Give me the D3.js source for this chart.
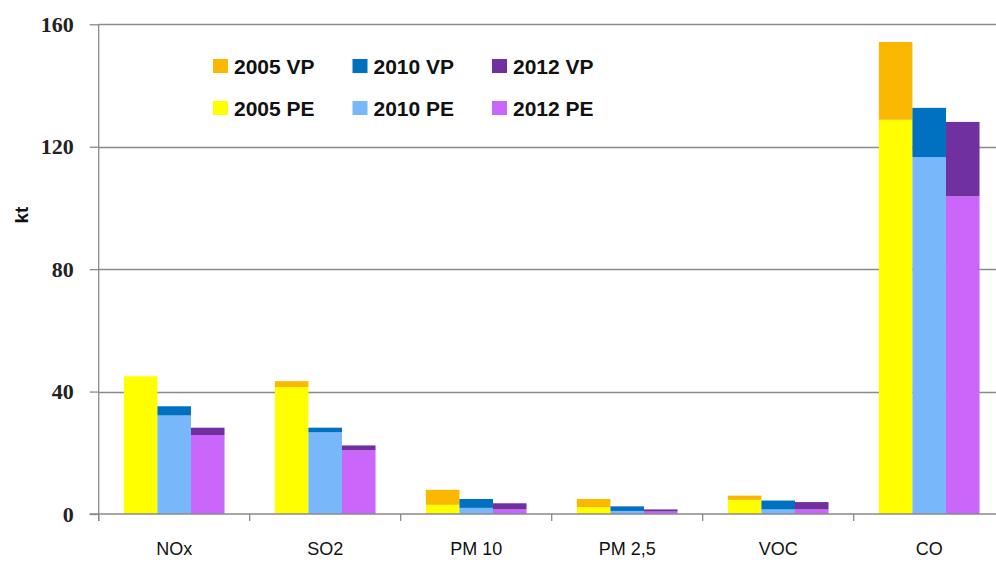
<!DOCTYPE html>
<html><head><meta charset="utf-8">
<script src="https://cdn.jsdelivr.net/npm/d3@7"></script>
<style>
html,body{margin:0;padding:0;background:#fff;}
svg{display:block;}
</style></head>
<body>
<svg id="chart" width="996" height="563"></svg>
<script>
const categories = ["NOx", "SO2", "PM 10", "PM 2,5", "VOC", "CO"];
const years = ["2005", "2010", "2012"];
const pe2005 = [45.0, 41.5, 3.0, 2.2, 4.6, 128.8];
const vp2005 = [0.0, 1.9, 4.9, 2.7, 1.4, 25.4];
const pe2010 = [32.2, 26.7, 2.0, 1.0, 1.5, 116.6];
const vp2010 = [3.0, 1.5, 2.9, 1.5, 2.9, 16.1];
const pe2012 = [25.8, 20.8, 1.5, 0.8, 1.5, 103.8];
const vp2012 = [2.4, 1.6, 2.0, 0.7, 2.4, 24.3];
const yTicks = [0, 40, 80, 120, 160];
const legendLabels = ["2005 VP", "2010 VP", "2012 VP", "2005 PE", "2010 PE", "2012 PE"];

const peColors = {"2005": "#FFFF00", "2010": "#78B7FA", "2012": "#CA66FA"};
const vpColors = {"2005": "#FAB900", "2010": "#0070C0", "2012": "#7030A0"};
const series = {
  "2005": {pe: pe2005, vp: vp2005},
  "2010": {pe: pe2010, vp: vp2010},
  "2012": {pe: pe2012, vp: vp2012}
};

(function () {
const svg = d3.select("#chart");
const mLeft = 98.7, mRight = 1004.7, mTop = 24.3, mBottom = 514;
const x = d3.scaleBand().domain(categories).range([mLeft, mRight]).padding(0);
const x1 = d3.scaleBand().domain(years).range([0, x.bandwidth()]).paddingInner(0).paddingOuter(0.75);
const y = d3.scaleLinear().domain([0, 160]).range([mBottom, mTop]);
const gridColor = "#8a8a8a";

// gridlines
svg.append("g").selectAll("line").data(yTicks.filter(d => d > 0)).join("line")
  .attr("x1", mLeft).attr("x2", 996)
  .attr("y1", d => Math.round(y(d)) + 0.5).attr("y2", d => Math.round(y(d)) + 0.5)
  .attr("stroke", gridColor).attr("stroke-width", 1.3);

// bars
const rows = [];
categories.forEach((c, i) => {
  years.forEach(yr => {
    const pe = series[yr].pe[i], vp = series[yr].vp[i];
    rows.push({c, yr, y0: 0, y1: pe, color: peColors[yr]});
    rows.push({c, yr, y0: pe, y1: pe + vp, color: vpColors[yr]});
  });
});
svg.append("g").selectAll("rect").data(rows).join("rect")
  .attr("x", d => x(d.c) + x1(d.yr))
  .attr("width", x1.bandwidth())
  .attr("y", d => y(d.y1))
  .attr("height", d => Math.max(0, y(d.y0) - y(d.y1)))
  .attr("fill", d => d.color);

// y axis
const yAxis = d3.axisLeft(y).tickValues(yTicks).tickSize(9).tickPadding(16).tickFormat(d3.format("d"));
const gy = svg.append("g").attr("transform", `translate(${mLeft},0)`).call(yAxis);
gy.select(".domain").attr("stroke", gridColor).attr("stroke-width", 1.3).attr("d", `M0,${mTop}V${mBottom + 7}`);
gy.selectAll(".tick line").attr("stroke", gridColor).attr("stroke-width", 1.3);
gy.selectAll(".tick text").attr("font-family", "'Liberation Serif', 'DejaVu Serif', serif")
  .attr("font-size", 22).attr("font-weight", "bold").attr("fill", "#222");

// x axis
const xAxis = d3.axisBottom(x).tickSize(0).tickPadding(28);
const gx = svg.append("g").attr("transform", `translate(0,${mBottom})`).call(xAxis);
gx.select(".domain").attr("stroke", gridColor).attr("stroke-width", 1.3).attr("d", `M${mLeft - 9},0H996`);
gx.selectAll(".tick text").attr("font-family", "'Liberation Sans', Arial, sans-serif")
  .attr("font-size", 18).attr("fill", "#111");
// category boundary ticks
svg.append("g").selectAll("line").data(categories).join("line")
  .attr("x1", d => x(d)).attr("x2", d => x(d))
  .attr("y1", mBottom).attr("y2", mBottom + 7)
  .attr("stroke", gridColor).attr("stroke-width", 1.3);

// y label
svg.append("text").attr("transform", "translate(28,215) rotate(-90)")
  .attr("text-anchor", "middle")
  .attr("font-family", "'Liberation Sans', Arial, sans-serif")
  .attr("font-size", 19).attr("font-weight", "bold").attr("fill", "#111")
  .text("kt");

// legend
const legendColors = [vpColors["2005"], vpColors["2010"], vpColors["2012"], peColors["2005"], peColors["2010"], peColors["2012"]];
const lg = svg.append("g");
legendLabels.forEach((lab, i) => {
  const col = i % 3, row = Math.floor(i / 3);
  const gx0 = 213 + col * 139.5, gy0 = 66 + row * 42;
  lg.append("rect").attr("x", gx0).attr("y", gy0 - 7).attr("width", 15).attr("height", 14)
    .attr("fill", legendColors[i]);
  lg.append("text").attr("x", gx0 + 21).attr("y", gy0).attr("dy", "0.36em")
    .attr("font-family", "'Liberation Sans', Arial, sans-serif")
    .attr("font-size", 21).attr("font-weight", "bold").attr("fill", "#111")
    .text(lab);
});
})();
</script>
</body></html>
